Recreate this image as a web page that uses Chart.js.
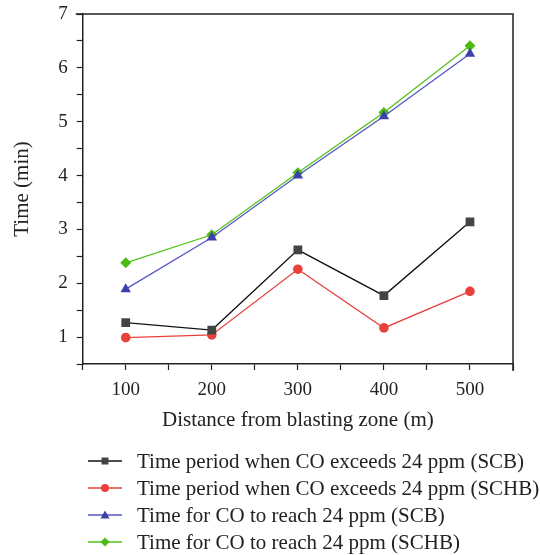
<!DOCTYPE html>
<html>
<head>
<meta charset="utf-8">
<script src="https://cdn.jsdelivr.net/npm/chart.js@4/dist/chart.umd.min.js"></script>
<style>
  html, body { margin: 0; padding: 0; background: #fff; }
  #wrap { width: 540px; height: 555px; }
</style>
</head>
<body>
<div id="wrap"><canvas id="myChart"></canvas></div>
<script>
var distances = [100, 200, 300, 400, 500];
var exceedSCB = [1.27, 1.13, 2.62, 1.77, 3.14];
var exceedSCHB = [0.99, 1.04, 2.26, 1.17, 1.85];
var reachSCB = [1.89, 2.85, 4.0, 5.1, 6.26];
var reachSCHB = [2.38, 2.9, 4.05, 5.17, 6.41];
var seriesLabels = [
  "Time period when CO exceeds 24 ppm (SCB)",
  "Time period when CO exceeds 24 ppm (SCHB)",
  "Time for CO to reach 24 ppm (SCB)",
  "Time for CO to reach 24 ppm (SCHB)",
];

var serif = "'Liberation Serif', 'DejaVu Serif', serif";

function toPoints(values) {
  return distances.map(function (d, i) {
    return { x: d, y: values[i] };
  });
}

// small canvas used as legend symbol: line with marker in the middle
function legendIcon(lineColor, markColor, shape) {
  var c = document.createElement("canvas");
  c.width = 36;
  c.height = 12;
  var g = c.getContext("2d");
  g.strokeStyle = lineColor;
  g.lineWidth = 1.3;
  g.beginPath();
  g.moveTo(1, 6);
  g.lineTo(35, 6);
  g.stroke();
  g.fillStyle = markColor;
  g.beginPath();
  if (shape === "rect") {
    g.rect(14.5, 2.5, 7, 7);
  } else if (shape === "circle") {
    g.arc(18, 6, 4, 0, Math.PI * 2);
  } else if (shape === "triangle") {
    g.moveTo(18, 1.5);
    g.lineTo(22.5, 9.5);
    g.lineTo(13.5, 9.5);
    g.closePath();
  } else {
    g.moveTo(18, 1.5);
    g.lineTo(22.5, 6);
    g.lineTo(18, 10.5);
    g.lineTo(13.5, 6);
    g.closePath();
  }
  g.fill();
  return c;
}

var styles = [
  { line: "#111111", mark: "#444444", shape: "rect", size: 6.2 },
  { line: "#e8403b", mark: "#e8403b", shape: "circle", size: 4.8 },
  { line: "#5457c4", mark: "#3d40a8", shape: "triangle", size: 6 },
  { line: "#52c21c", mark: "#4cbb14", shape: "rectRot", size: 5.5 },
];
var seriesValues = [exceedSCB, exceedSCHB, reachSCB, reachSCHB];

// box around the plot area
var framePlugin = {
  id: "frame",
  afterDatasetsDraw: function (chart) {
    var a = chart.chartArea;
    var c = chart.ctx;
    c.save();
    c.strokeStyle = "#222";
    c.lineWidth = 1.5;
    c.beginPath();
    c.moveTo(a.left - 7, a.top);
    c.lineTo(a.right, a.top);
    c.lineTo(a.right, a.bottom + 7);
    c.stroke();
    c.restore();
  },
};

// left-aligned legend, one series per row, under the axis title
var legendPlugin = {
  id: "rowLegend",
  afterDraw: function (chart) {
    var c = chart.ctx;
    var top = 461;
    c.save();
    c.font = "21px " + serif;
    c.fillStyle = "#222";
    c.textBaseline = "middle";
    c.textAlign = "left";
    chart.data.datasets.forEach(function (ds, i) {
      var y = top + i * 27;
      c.drawImage(legendIcon(styles[i].line, styles[i].mark, styles[i].shape), 87, y - 6);
      c.fillText(ds.label, 137, y + 1);
    });
    c.restore();
  },
};

var ctx = document.getElementById("myChart").getContext("2d");
var myChart = new Chart(ctx, {
  type: "line",
  data: {
    datasets: seriesValues.map(function (vals, i) {
      var s = styles[i];
      return {
        label: seriesLabels[i],
        data: toPoints(vals),
        borderColor: s.line,
        backgroundColor: s.mark,
        borderWidth: 1.3,
        pointStyle: s.shape,
        pointRadius: s.size,
        pointBorderWidth: 0,
        pointBackgroundColor: s.mark,
        tension: 0,
      };
    }),
  },
  options: {
    responsive: true,
    maintainAspectRatio: false,
    animation: false,
    layout: {
      padding: { left: 10, right: 27, top: 14, bottom: 122 },
    },
    plugins: {
      tooltip: { enabled: false },
      legend: { display: false },
    },
    scales: {
      x: {
        type: "linear",
        min: 50,
        max: 550,
        border: { display: true, color: "#222", width: 1.5 },
        grid: { drawOnChartArea: false, drawTicks: true, tickLength: 6, color: "#222", tickWidth: 1.2 },
        ticks: {
          stepSize: 50,
          autoSkip: false,
          maxRotation: 0,
          color: "#222",
          padding: 9,
          font: { family: serif, size: 19 },
          callback: function (v) {
            return v % 100 === 0 ? v : "";
          },
        },
        title: {
          display: true,
          text: "Distance from blasting zone (m)",
          color: "#222",
          font: { family: serif, size: 21 },
          padding: { top: -3, bottom: 0 },
        },
      },
      y: {
        min: 0.5,
        max: 7,
        afterFit: function (scale) {
          scale.paddingTop = 0;
        },
        border: { display: true, color: "#222", width: 1.5 },
        grid: { drawOnChartArea: false, drawTicks: true, tickLength: 6, color: "#222", tickWidth: 1.2 },
        ticks: {
          stepSize: 0.5,
          autoSkip: false,
          color: "#222",
          padding: 9,
          font: { family: serif, size: 19 },
          callback: function (v) {
            return Number.isInteger(v) ? v : "";
          },
        },
        title: {
          display: true,
          text: "Time (min)",
          color: "#222",
          font: { family: serif, size: 21 },
          padding: { top: 0, bottom: 14 },
        },
      },
    },
  },
  plugins: [framePlugin, legendPlugin],
});
</script>
</body>
</html>
